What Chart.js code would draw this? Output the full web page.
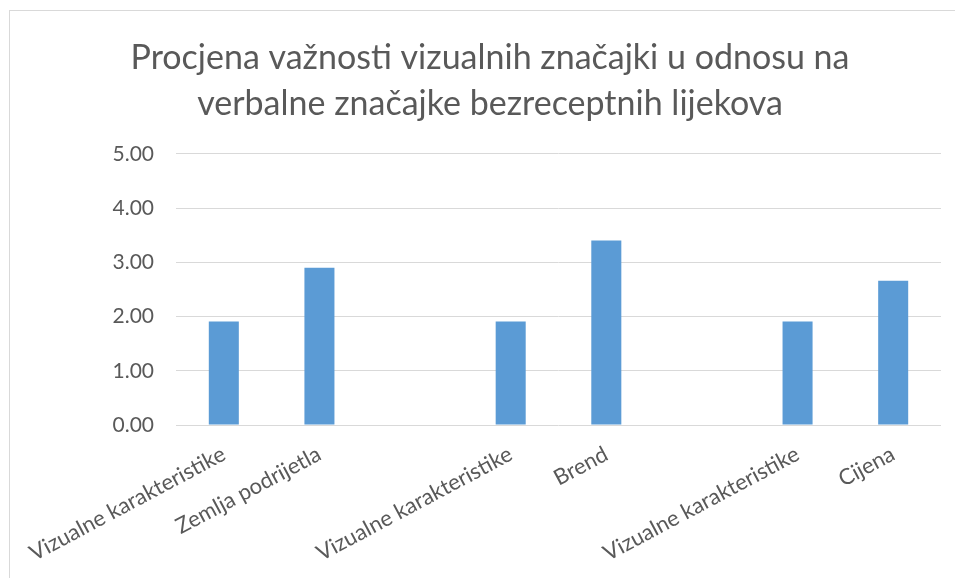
<!DOCTYPE html>
<html>
<head>
<meta charset="utf-8">
<script src="https://cdn.jsdelivr.net/npm/chart.js@4"></script>
<style>
    html, body { margin: 0; padding: 0; background: #fff; overflow: hidden; width: 955px; height: 578px; }
    #okvir {
        position: absolute; left: 9px; top: 10px; width: 980px; height: 600px;
        border-left: 1px solid #d9d9d9; border-top: 1px solid #d9d9d9;
    }
    #grafica { position: absolute; left: 0; top: 0; }
</style>
</head>
<body>
<div id="okvir"><canvas id="grafica" width="960" height="568"></canvas></div>
<script>
// podaci s grafikona
const naslov = [
    "Procjena važnosti vizualnih značajki u odnosu na",
    "verbalne značajke bezreceptnih lijekova"
];
const kategorije = [
    "Vizualne karakteristike",
    "Zemlja podrijetla",
    "",
    "Vizualne karakteristike",
    "Brend",
    "",
    "Vizualne karakteristike",
    "Cijena",
];
const vrijednosti = [1.91, 2.90, null, 1.91, 3.40, null, 1.91, 2.66];
const yMin = 0;
const yMax = 5;
const yKorak = 1;

const siva = "#595959";
const font = "Lato";

const grafica = document.getElementById("grafica");

const podaci = {
    labels: kategorije,
    datasets: [{
        data: vrijednosti,
        backgroundColor: "#5b9bd5",
        borderWidth: 0,
        barPercentage: 0.314,
        categoryPercentage: 1,
    }],
};

const opcije = {
    responsive: false,
    animation: false,
    layout: { padding: { left: 29, right: 29, top: 0, bottom: 0 } },
    plugins: {
        legend: { display: false },
        tooltip: { enabled: false },
        title: {
            display: true,
            text: naslov,
            color: siva,
            font: { family: font, size: 34, weight: "normal", lineHeight: 1.35 },
            padding: { top: 24, bottom: 27 },
        },
    },
    scales: {
        x: {
            grid: { display: false },
            border: { display: false },
            ticks: {
                autoSkip: false,
                minRotation: 28,
                maxRotation: 28,
                color: siva,
                font: { family: font, size: 22 },
                padding: 8,
            },
            afterFit: function (scale) { scale.height = 154; },
        },
        y: {
            min: yMin,
            max: yMax,
            grid: { color: "#d9d9d9", lineWidth: 1, drawTicks: false },
            border: { display: false },
            ticks: {
                stepSize: yKorak,
                color: siva,
                font: { family: font, size: 21 },
                padding: 22,
                callback: v => v.toFixed(2),
            },
            afterFit: function (scale) { scale.width = 137; },
        },
    },
};

new Chart(grafica, { type: "bar", data: podaci, options: opcije });
</script>
</body>
</html>
